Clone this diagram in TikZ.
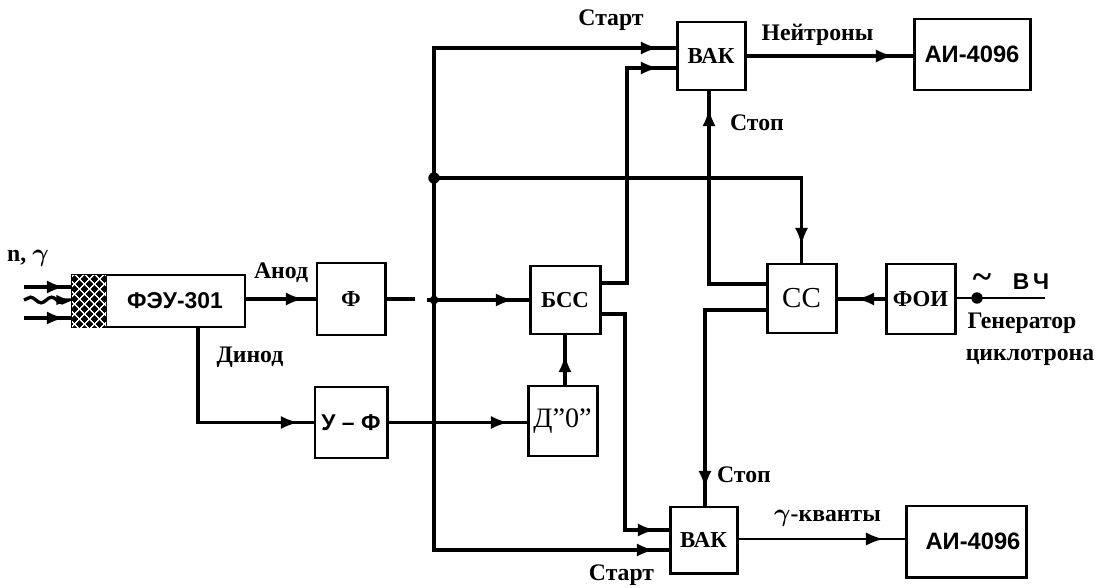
\documentclass[tikz,border=0pt]{standalone}
\usepackage{fontspec}
\setmainfont{Liberation Serif}
\setsansfont{Liberation Sans}
\usetikzlibrary{arrows.meta}
\usetikzlibrary{patterns.meta}
\usetikzlibrary{decorations.markings,decorations.pathmorphing}
\tikzset{
  block/.style={draw, line width=1.7pt, inner sep=0pt, font=\fontsize{13}{15}\selectfont\bfseries},
  sansblock/.style={block, font=\fontsize{13}{15}\selectfont\sffamily\bfseries},
  lbl/.style={inner sep=0pt, font=\fontsize{13.5}{15}\selectfont\bfseries\boldmath},
  wire/.style={line width=1.9pt},
  tipped/.style={postaction={decorate}, decoration={markings, mark=at position #1 with {\arrow{Latex[length=10pt,width=7.5pt]}}}},
  joint/.style={circle, fill, inner sep=0pt, minimum size=6.5pt}
}

\begin{document}
\begin{tikzpicture}
  \useasboundingbox (0,0) rectangle (22.06,11.74);

  \node [sansblock, minimum width=2.8cm, minimum height=1.04cm] (feu) at (3.5,5.72) {ФЭУ-301};
  \node [draw, line width=1.7pt, fill=black, minimum width=0.68cm, minimum height=1.04cm, inner sep=0pt,
         postaction={pattern={Lines[angle=45,distance=4pt,line width=0.8pt]},pattern color=white},
         postaction={pattern={Lines[angle=-45,distance=4pt,line width=0.8pt]},pattern color=white}] (cathode) at (1.78,5.72) {};
  \node [block, minimum width=1.36cm, minimum height=1.44cm] (filt) at (7.02,5.76) {Ф};
  \node [sansblock, minimum width=1.44cm, minimum height=1.42cm] (ampfilt) at (7.02,3.29) {У – Ф};
  \node [block, minimum width=1.4cm, minimum height=1.36cm] (bss) at (11.3,5.74) {БСС};
  \node [block, minimum width=1.38cm, minimum height=1.4cm, font=\fontsize{16}{18}\selectfont] (dzero) at (11.25,3.32) {Д''0''};
  \node [block, minimum width=1.36cm, minimum height=1.36cm] (vakn) at (14.22,10.62) {ВАК};
  \node [block, minimum width=1.34cm, minimum height=1.32cm] (vakg) at (14.07,0.94) {ВАК};
  \node [block, minimum width=1.38cm, minimum height=1.38cm, font=\fontsize{16.5}{18}\selectfont] (cc) at (16.03,5.77) {СС};
  \node [block, minimum width=1.38cm, minimum height=1.4cm] (foi) at (18.41,5.76) {ФОИ};
  \node [sansblock, font=\fontsize{13.5}{15}\selectfont\sffamily\bfseries, minimum width=2.32cm, minimum height=1.42cm] (ain) at (19.44,10.65) {АИ-4096};
  \node [sansblock, font=\fontsize{13.5}{15}\selectfont\sffamily\bfseries, minimum width=2.4cm, minimum height=1.42cm] (aig) at (19.32,0.91) {\hspace*{0.28cm}АИ-4096};

  \coordinate (busin) at (8.68,5.74);
  \coordinate (bustop) at (8.68,10.78);
  \coordinate (busmid) at (8.68,8.18);
  \coordinate (busbot) at (8.68,0.74);
  \coordinate (gapa) at (8.3,5.76);
  \coordinate (gapb) at (8.54,5.74);
  \coordinate (inupper) at (0.48,6.0);
  \coordinate (inwave) at (0.48,5.74);
  \coordinate (inlower) at (0.48,5.38);
  \coordinate (rfend) at (20.9,5.78);

  \draw [wire, tipped=-0.12cm] (inupper) -- (inupper -| cathode.west);
  \draw [wire, -{Latex[length=8pt,width=6pt]}, decorate, decoration={snake, amplitude=1.6pt, segment length=0.42cm}] (inwave) -- (inwave -| cathode.west);
  \draw [wire, tipped=-0.12cm] (inlower) -- (inlower -| cathode.west);

  \draw [wire, tipped=-0.24cm] (feu.east |- filt.west) -- (filt.west);
  \draw [wire, tipped=-0.3cm] (feu.south -| 3.96,0) |- (ampfilt.west);
  \draw [wire] (filt.east) -- (gapa);
  \draw [wire, tipped=-0.3cm] (gapb) -- (bss.west);
  \draw [wire, tipped=-0.36cm] (ampfilt.east) -- (ampfilt.east -| dzero.west);
  \draw [wire, tipped=-0.38cm] (dzero.north -| bss.south) -- (bss.south);

  \draw [wire, tipped=-0.34cm] (busin) |- (bustop) -- (bustop -| vakn.west);
  \draw [wire, tipped=-0.28cm] (busin) |- (busbot) -- (busbot -| vakg.west);
  \draw [wire, tipped=-0.34cm] (busmid) -| (cc.north);

  \coordinate (bssup) at (12.54,6.08);
  \coordinate (bssdn) at (12.5,5.46);
  \coordinate (ccup) at (14.18,6.06);
  \coordinate (ccdn) at (14.1,5.54);
  \draw [wire, tipped=-0.34cm] (bss.east |- bssup) -- (bssup) |- (vakn.west |- 0,10.38);
  \draw [wire, tipped=-0.26cm] (bss.east |- bssdn) -- (bssdn) |- (vakg.west |- 0,1.14);
  \draw [wire, tipped=-0.34cm] (cc.west |- ccup) -| (vakn.south -| ccup);
  \draw [wire, tipped=-0.34cm] (cc.west |- ccdn) -| (vakg.north -| ccdn);

  \draw [wire, tipped=-0.38cm] (vakn.east |- 0,10.62) -- (ain.west |- 0,10.62);
  \draw [wire, line width=1.5pt, tipped=-0.42cm] (vakg.east |- 0,0.96) -- (aig.west |- 0,0.96);
  \draw [wire, tipped=-0.38cm] (foi.west) -- (foi.west -| cc.east);
  \draw [wire, line width=1.5pt] (foi.east |- rfend) -- (rfend);

  \node [joint] (rfdot) at (19.54,5.78) {};
  \node [joint, minimum size=5pt] (busdot) at (busin) {};
  \node [joint] (busmiddot) at (busmid) {};

  \node [lbl] (nglabel) at (0.56,6.58) {n, $\gamma$};
  \node [lbl] (anode) at (5.62,6.28) {Анод};
  \node [lbl] (dynode) at (5.0,4.6) {Динод};
  \node [lbl] (startn) at (12.22,11.34) {Старт};
  \node [lbl] (neutrons) at (16.35,11.04) {Нейтроны};
  \node [lbl] (stopn) at (15.14,9.28) {Стоп};
  \node [lbl] (stopg) at (14.88,2.24) {Стоп};
  \node [lbl] (startg) at (12.43,0.24) {Старт};
  \node [lbl] (gammas) at (16.55,1.38) {$\gamma$-кванты};
  \node [lbl] (rfgen) at (20.44,5.28) {Генератор};
  \node [lbl] (cyclotron) at (20.6,4.6) {циклотрона};
  \node [lbl, font=\fontsize{13}{15}\selectfont\sffamily\bfseries] (rf) at (20.62,6.1) {В\,Ч};
  \node [lbl, font=\fontsize{20}{20}\selectfont\bfseries] (tilde) at (19.64,6.12) {\char"007E};
\end{tikzpicture}
\end{document}
